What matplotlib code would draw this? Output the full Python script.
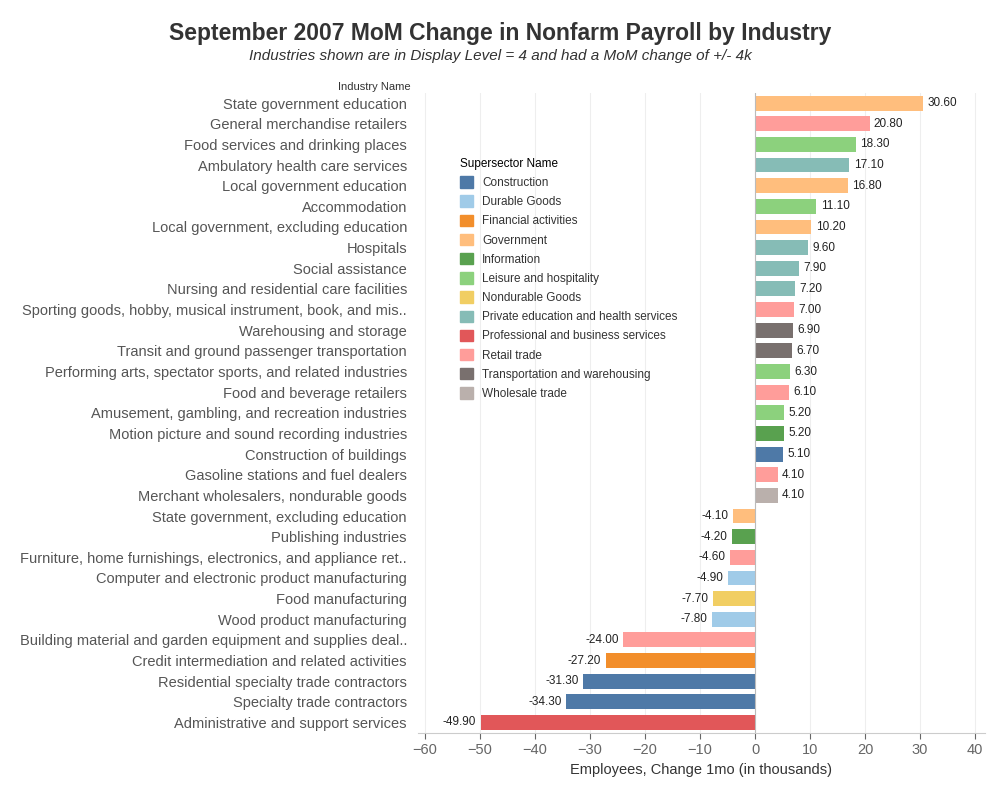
import matplotlib.pyplot as plt
from matplotlib.patches import Patch

plt.rcParams["font.family"] = ["Liberation Sans", "DejaVu Sans"]

industries = [
    "State government education", "General merchandise retailers", "Food services and drinking places",
    "Ambulatory health care services", "Local government education", "Accommodation",
    "Local government, excluding education", "Hospitals", "Social assistance",
    "Nursing and residential care facilities",
    "Sporting goods, hobby, musical instrument, book, and mis..", "Warehousing and storage",
    "Transit and ground passenger transportation", "Performing arts, spectator sports, and related industries",
    "Food and beverage retailers", "Amusement, gambling, and recreation industries",
    "Motion picture and sound recording industries", "Construction of buildings",
    "Gasoline stations and fuel dealers", "Merchant wholesalers, nondurable goods",
    "State government, excluding education", "Publishing industries",
    "Furniture, home furnishings, electronics, and appliance ret..",
    "Computer and electronic product manufacturing", "Food manufacturing", "Wood product manufacturing",
    "Building material and garden equipment and supplies deal..",
    "Credit intermediation and related activities", "Residential specialty trade contractors",
    "Specialty trade contractors", "Administrative and support services",
]
changes = [30.6, 20.8, 18.3, 17.1, 16.8, 11.1, 10.2, 9.6, 7.9, 7.2, 7.0, 6.9, 6.7, 6.3, 6.1, 5.2, 5.2,
           5.1, 4.1, 4.1, -4.1, -4.2, -4.6, -4.9, -7.7, -7.8, -24.0, -27.2, -31.3, -34.3, -49.9]
sectors = ["Government", "Retail trade", "Leisure and hospitality", "Private education and health services",
           "Government", "Leisure and hospitality", "Government", "Private education and health services",
           "Private education and health services", "Private education and health services",
           "Retail trade", "Transportation and warehousing", "Transportation and warehousing",
           "Leisure and hospitality", "Retail trade", "Leisure and hospitality", "Information",
           "Construction", "Retail trade", "Wholesale trade", "Government", "Information",
           "Retail trade", "Durable Goods", "Nondurable Goods", "Durable Goods", "Retail trade",
           "Financial activities", "Construction", "Construction", "Professional and business services"]

sector_colors = {
    "Construction": "#4E79A7",
    "Durable Goods": "#A0CBE8",
    "Financial activities": "#F28E2B",
    "Government": "#FFBE7D",
    "Information": "#59A14F",
    "Leisure and hospitality": "#8CD17D",
    "Nondurable Goods": "#F1CE63",
    "Private education and health services": "#86BCB6",
    "Professional and business services": "#E15759",
    "Retail trade": "#FF9D9A",
    "Transportation and warehousing": "#79706E",
    "Wholesale trade": "#BAB0AC",
}

fig = plt.figure(figsize=(10, 8), dpi=100)
ax = fig.add_axes([0.418, 0.084, 0.567, 0.8])

y = list(range(len(industries)))
ax.barh(y, changes, height=0.72, color=[sector_colors[s] for s in sectors])
for yi, v in zip(y, changes):
    ax.text(v + (0.8 if v > 0 else -0.8), yi, f"{v:.2f}", va="center",
            ha="left" if v > 0 else "right", fontsize=8.5, color="#222222")

ax.set_ylim(len(industries) - 0.5, -0.5)
ax.set_xlim(-61.3, 41.8)
ax.set_xticks(range(-60, 41, 10))
ax.set_yticks(y)
ax.set_yticklabels(industries, fontsize=10.5, color="#555555")
ax.tick_params(axis="x", labelsize=10.5, colors="#666666", length=4)
ax.tick_params(axis="y", length=0, pad=8)
ax.grid(axis="x", color="#eeeeee", lw=0.8)
ax.set_axisbelow(True)
for s in ["top", "right", "left"]:
    ax.spines[s].set_visible(False)
ax.spines["bottom"].set_color("#cccccc")
ax.axvline(0, color="#bbbbbb", lw=0.8)
ax.set_xlabel("Employees, Change 1mo (in thousands)", fontsize=10.5, color="#333333")

fig.text(0.5, 0.95, "September 2007 MoM Change in Nonfarm Payroll by Industry",
         ha="center", fontsize=16.5, fontweight="bold", color="#333333")
fig.text(0.5, 0.925, "Industries shown are in Display Level = 4 and had a MoM change of +/- 4k",
         ha="center", fontsize=11, style="italic", color="#333333")
fig.text(0.411, 0.887, "Industry Name", ha="right", fontsize=8, color="#333333")

handles = [Patch(color=c, label=k) for k, c in sector_colors.items()]
leg = ax.legend(handles=handles, title="Supersector Name", loc="upper left",
                bbox_to_anchor=(0.055, 0.915), frameon=False, fontsize=8.5,
                title_fontsize=8.5, handlelength=1.1, handleheight=1.1,
                labelspacing=0.55, alignment="left")
for t in leg.get_texts():
    t.set_color("#333333")

fig.savefig("out.png", dpi=100)
